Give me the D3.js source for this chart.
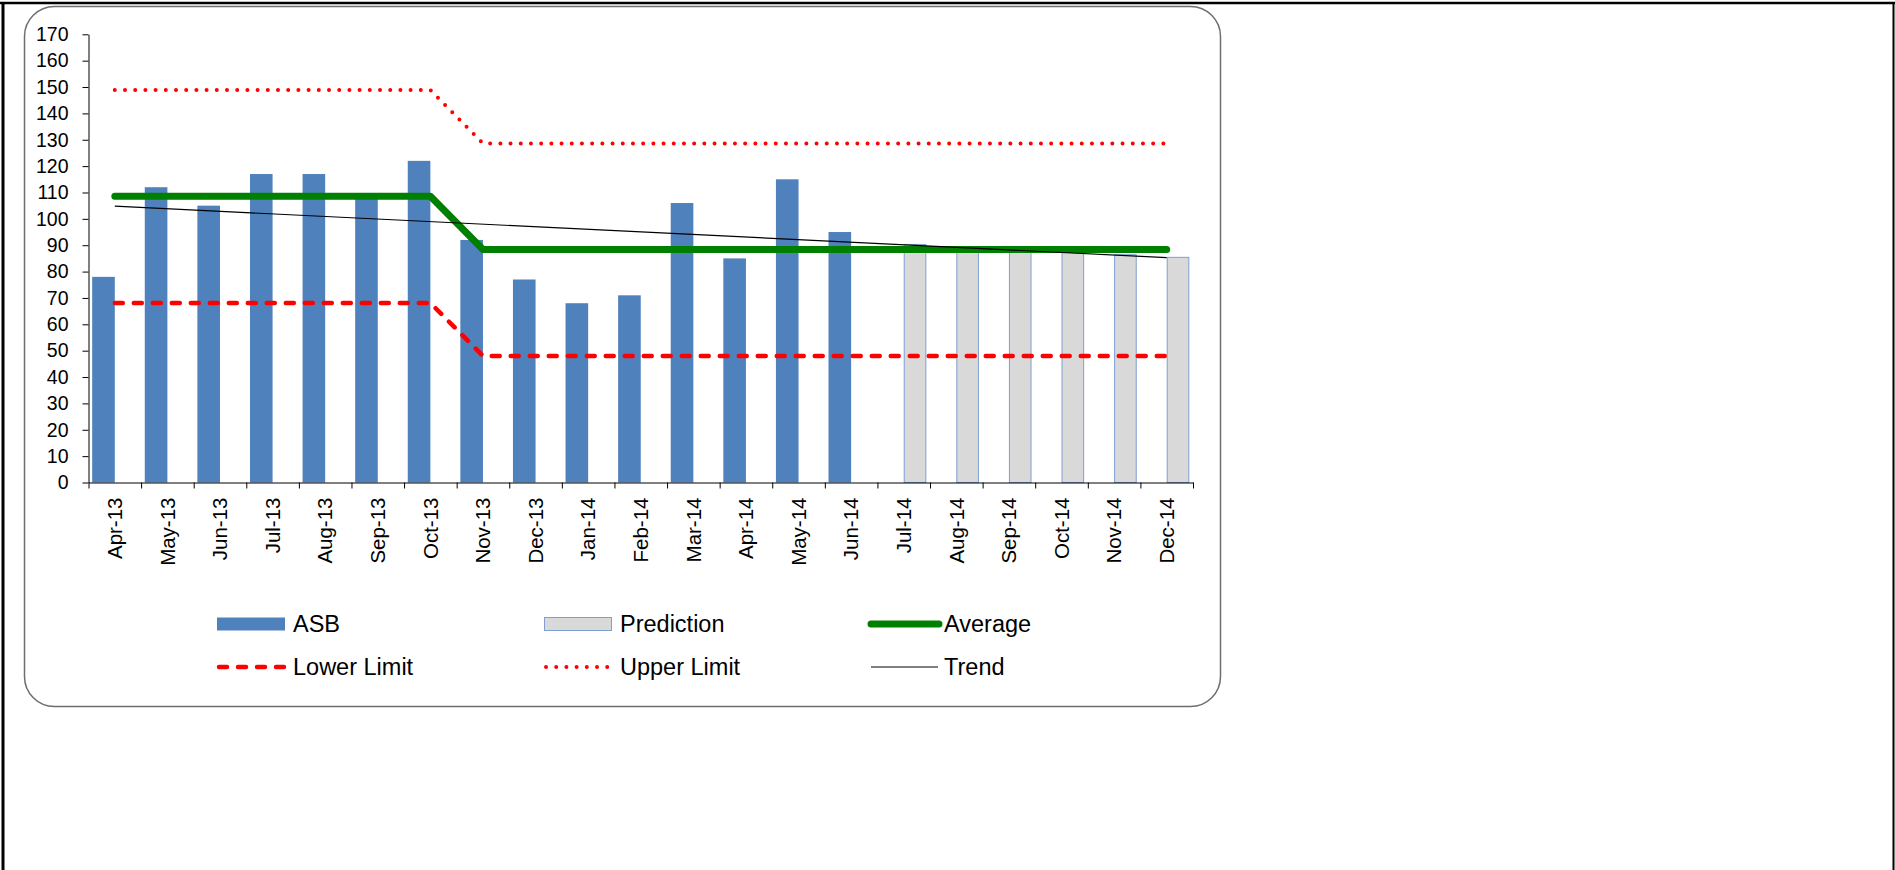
<!DOCTYPE html>
<html>
<head>
<meta charset="utf-8">
<script src="https://cdn.jsdelivr.net/npm/d3@7"></script>
<style>
  body { margin: 0; background: #fff; }
  svg { display: block; font-family: "Liberation Sans", Arial, sans-serif; }
</style>
</head>
<body>
<svg id="chart" width="1895" height="870"></svg>
<script>
// data
const months = ["Apr-13", "May-13", "Jun-13", "Jul-13", "Aug-13", "Sep-13", "Oct-13",
  "Nov-13", "Dec-13", "Jan-14", "Feb-14", "Mar-14", "Apr-14", "May-14", "Jun-14",
  "Jul-14", "Aug-14", "Sep-14", "Oct-14", "Nov-14", "Dec-14"];
const asb = [78, 112, 105, 117, 117, 108, 122, 92, 77, 68, 71, 106, 85, 115, 95];
const predictionMonths = ["Jul-14", "Aug-14", "Sep-14", "Oct-14", "Nov-14", "Dec-14"];
const prediction = [90.3, 89.3, 88.4, 87.4, 86.4, 85.4];
const average = [108.6, 108.6, 108.6, 108.6, 108.6, 108.6, 108.6,
  88.4, 88.4, 88.4, 88.4, 88.4, 88.4, 88.4, 88.4, 88.4, 88.4, 88.4, 88.4, 88.4, 88.4];
const lowerLimit = [68.1, 68.1, 68.1, 68.1, 68.1, 68.1, 68.1,
  48.0, 48.0, 48.0, 48.0, 48.0, 48.0, 48.0, 48.0, 48.0, 48.0, 48.0, 48.0, 48.0, 48.0];
const upperLimit = [148.9, 148.9, 148.9, 148.9, 148.9, 148.9, 148.9,
  128.6, 128.6, 128.6, 128.6, 128.6, 128.6, 128.6, 128.6, 128.6, 128.6, 128.6, 128.6, 128.6, 128.6];
const trendMonths = ["Apr-13", "Dec-14"];
const trend = [104.8, 85.3];
const yTicks = d3.range(0, 171, 10);

const svg = d3.select("#chart");

// page frame
svg.append("line").attr("x1", 0).attr("x2", 1895).attr("y1", 3).attr("y2", 3)
  .attr("stroke", "#000").attr("stroke-width", 2.5);
svg.append("line").attr("x1", 3).attr("x2", 3).attr("y1", 2).attr("y2", 870)
  .attr("stroke", "#000").attr("stroke-width", 3);
svg.append("line").attr("x1", 1893.5).attr("x2", 1893.5).attr("y1", 2).attr("y2", 870)
  .attr("stroke", "#000").attr("stroke-width", 2);

// chart area
svg.append("rect")
  .attr("x", 24.5).attr("y", 6.5).attr("width", 1196).attr("height", 700)
  .attr("rx", 30).attr("ry", 30)
  .attr("fill", "#fff").attr("stroke", "#6e6e6e").attr("stroke-width", 1.5);

const plotLeft = 88.5, plotRight = 1193, plotTop = 34.3, plotBottom = 482.5;

const x = d3.scaleBand().domain(months).range([plotLeft, plotRight]).padding(0);
const xIdx = d3.scaleLinear().domain([0, months.length]).range([plotLeft, plotRight]);
const y = d3.scaleLinear().domain([0, 170]).range([plotBottom, plotTop]);
const bw = x.bandwidth();
const sub = d3.scaleBand().domain(["ASB", "Prediction"]).range([0.07 * bw, 0.93 * bw]);
const cx = m => x(m) + bw / 2;

// bars
svg.append("g").selectAll("rect")
  .data(asb.map((v, i) => ({ m: months[i], v })))
  .join("rect")
  .attr("x", d => x(d.m) + sub("ASB"))
  .attr("width", sub.bandwidth())
  .attr("y", d => y(d.v))
  .attr("height", d => y(0) - y(d.v))
  .attr("fill", "#4f81bd");

svg.append("g").selectAll("rect")
  .data(prediction.map((v, i) => ({ m: predictionMonths[i], v })))
  .join("rect")
  .attr("x", d => x(d.m) + sub("Prediction") + 0.5)
  .attr("width", sub.bandwidth() - 1)
  .attr("y", d => y(d.v))
  .attr("height", d => y(0) - y(d.v))
  .attr("fill", "#d9d9d9")
  .attr("stroke", "#7f9fd0")
  .attr("stroke-width", 1);

// axes
const yAxis = svg.append("g")
  .attr("transform", `translate(${plotLeft},0)`)
  .call(d3.axisLeft(y).tickValues(yTicks).tickSize(6).tickSizeOuter(0).tickPadding(14));
yAxis.attr("font-family", null);
yAxis.selectAll("text").attr("font-size", 19.5).attr("fill", "#000");
yAxis.selectAll("line,path").attr("stroke", "#000");

const xTicks = svg.append("g")
  .attr("transform", `translate(0,${plotBottom})`)
  .call(d3.axisBottom(xIdx).tickValues(d3.range(months.length + 1)).tickFormat("").tickSize(6).tickSizeOuter(0));
xTicks.selectAll("line,path").attr("stroke", "#000");

const xLabels = svg.append("g")
  .attr("transform", `translate(0,${plotBottom})`)
  .call(d3.axisBottom(x).tickSize(0).tickPadding(0));
xLabels.attr("font-family", null);
xLabels.select(".domain").remove();
xLabels.selectAll("text")
  .attr("font-size", 20.5).attr("fill", "#000")
  .attr("text-anchor", "end")
  .attr("transform", "translate(0,15) rotate(-90)")
  .attr("x", 0).attr("y", 0).attr("dy", "0.35em");

// lines
const line = vals => d3.line().x((d, i) => cx(months[i])).y(d => y(d))(vals);

svg.append("path").attr("d", line(average))
  .attr("fill", "none").attr("stroke", "#008000").attr("stroke-width", 7)
  .attr("stroke-linecap", "round").attr("stroke-linejoin", "round");

svg.append("path").attr("d", line(lowerLimit))
  .attr("fill", "none").attr("stroke", "#ff0000").attr("stroke-width", 4.5)
  .attr("stroke-dasharray", "8 11").attr("stroke-linecap", "round");

svg.append("path").attr("d", line(upperLimit))
  .attr("fill", "none").attr("stroke", "#ff0000").attr("stroke-width", 4)
  .attr("stroke-dasharray", "0 10.2").attr("stroke-linecap", "round");

svg.append("path")
  .attr("d", d3.line().x((d, i) => cx(trendMonths[i])).y(d => y(d))(trend))
  .attr("fill", "none").attr("stroke", "#000").attr("stroke-width", 1.2);

// legend
const legendItems = [
  { name: "ASB", kind: "bar", col: 0, row: 0 },
  { name: "Prediction", kind: "pred", col: 1, row: 0 },
  { name: "Average", kind: "avg", col: 2, row: 0 },
  { name: "Lower Limit", kind: "lower", col: 0, row: 1 },
  { name: "Upper Limit", kind: "upper", col: 1, row: 1 },
  { name: "Trend", kind: "trend", col: 2, row: 1 }
];
const colX = [217, 544, 868];
const rowY = [624, 667];

const lg = svg.append("g").selectAll("g").data(legendItems).join("g")
  .attr("transform", d => `translate(${colX[d.col]},${rowY[d.row]})`);

lg.each(function (d) {
  const g = d3.select(this);
  if (d.kind === "bar") {
    g.append("rect").attr("x", 0).attr("y", -6.5).attr("width", 68).attr("height", 13).attr("fill", "#4f81bd");
  } else if (d.kind === "pred") {
    g.append("rect").attr("x", 0.5).attr("y", -6.5).attr("width", 67).attr("height", 13)
      .attr("fill", "#d9d9d9").attr("stroke", "#7f9fd0").attr("stroke-width", 1);
  } else if (d.kind === "avg") {
    g.append("line").attr("x1", 3).attr("x2", 71).attr("y1", 0).attr("y2", 0)
      .attr("stroke", "#008000").attr("stroke-width", 7).attr("stroke-linecap", "round");
  } else if (d.kind === "lower") {
    g.append("line").attr("x1", 2).attr("x2", 68).attr("y1", 0).attr("y2", 0)
      .attr("stroke", "#ff0000").attr("stroke-width", 4.5)
      .attr("stroke-dasharray", "8 11").attr("stroke-linecap", "round");
  } else if (d.kind === "upper") {
    g.append("line").attr("x1", 2).attr("x2", 68).attr("y1", 0).attr("y2", 0)
      .attr("stroke", "#ff0000").attr("stroke-width", 4)
      .attr("stroke-dasharray", "0 10.2").attr("stroke-linecap", "round");
  } else {
    g.append("line").attr("x1", 3).attr("x2", 70).attr("y1", 0).attr("y2", 0)
      .attr("stroke", "#000").attr("stroke-width", 1.2);
  }
  g.append("text").attr("x", 76).attr("y", 0).attr("dy", "0.35em")
    .attr("font-size", 23.5).attr("fill", "#000").text(d.name);
});
</script>
</body>
</html>
